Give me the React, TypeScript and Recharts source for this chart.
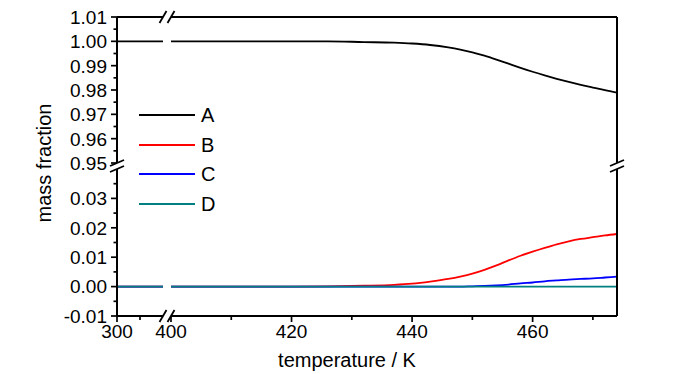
import React from 'react';
import { LineChart, Line, XAxis, YAxis, Legend } from 'recharts';

// ---------- data ----------
const temperatures = [300, 400, 410, 420, 426, 432, 437, 440, 443, 446, 448, 450, 452, 454, 456, 458, 460, 462, 464, 466, 468, 470, 472, 474];
const seriesA = [1.0, 1.0, 1.0, 1.0, 1.0, 0.9997, 0.99945, 0.9991, 0.9985, 0.9975, 0.9966, 0.9955, 0.9941, 0.9925, 0.9908, 0.9891, 0.9875, 0.986, 0.9846, 0.9833, 0.9821, 0.981, 0.9799, 0.9789];
const seriesB = [0, 0, 0, 0, 0.0001, 0.0003, 0.0006, 0.001, 0.0017, 0.0026, 0.0034, 0.0044, 0.0057, 0.0072, 0.0089, 0.0105, 0.0119, 0.0132, 0.0144, 0.0154, 0.0162, 0.0168, 0.0174, 0.0179];
const seriesC = [0, 0, 0, 0, 0, 0, 0, 0, 0, 0, 0, 0.0001, 0.0002, 0.0004, 0.0007, 0.0011, 0.0014, 0.0018, 0.0021, 0.0024, 0.0026, 0.0028, 0.0031, 0.0034];
const seriesD = [0, 0, 0, 0, 0, 0, 0, 0, 0, 0, 0, 0, 0, 0, 0, 0, 0, 0, 0, 0, 0, 0, 0, 0];
const seriesNames = ['A', 'B', 'C', 'D'];
const seriesColors = ['#000000', '#ff0000', '#0000ff', '#008080'];

const xTicksLeft = [300, 350];
const xTicksRight = [400, 410, 420, 430, 440, 450, 460, 470];
const xMajorTicks = [300, 400, 420, 440, 460];
const yTicksTop = [0.95, 0.955, 0.96, 0.965, 0.97, 0.975, 0.98, 0.985, 0.99, 0.995, 1.0, 1.005, 1.01];
const yTicksBottom = [-0.01, -0.005, 0, 0.005, 0.01, 0.015, 0.02, 0.025, 0.03, 0.035];
const xDomainLeft: [number, number] = [300, 400];
const xDomainRight: [number, number] = [400, 474];
const yDomainTop: [number, number] = [0.95, 1.01];
const yDomainBottom: [number, number] = [-0.01, 0.04];
const xTitle = 'temperature / K';
const yTitle = 'mass fraction';

const data = temperatures.map((t, i) => ({
  T: t,
  A: seriesA[i],
  B: seriesB[i],
  C: seriesC[i],
  D: seriesD[i],
}));

// ---------- layout ----------
const W = 700;
const H = 374;
const FONT = '"Liberation Sans", Arial, Helvetica, sans-serif';
const TICK_FS = 19;
const PX = { lLeft: 117, lRight: 163, rLeft: 171, rRight: 617 };
const PY = { tTop: 17, tBottom: 163, bTop: 169, bBottom: 316 };
const LEFT_Y_W = 40;
const RIGHT_Y_W = 5;
const TOP_X_H = 5;
const BOTTOM_X_H = 40;

const isMajorY = (v: number) => Math.abs(Math.round(v * 100) - v * 100) < 1e-6;

const XTick = (props: any) => {
  const { x, y, payload } = props;
  const v = payload.value;
  const major = xMajorTicks.includes(v);
  return (
    <g>
      <line x1={x} x2={x} y1={y} y2={y + (major ? 6 : 4)} stroke="#000" strokeWidth={1.7} />
      {major && (
        <text x={x} y={y + 22} textAnchor="middle" fontSize={TICK_FS} fontFamily={FONT} fill="#000">
          {v}
        </text>
      )}
    </g>
  );
};

const YTick = (props: any) => {
  const { x, y, payload } = props;
  const v = payload.value as number;
  const major = isMajorY(v);
  return (
    <g>
      <line x1={x - (major ? 6 : 3.5)} x2={x} y1={y} y2={y} stroke="#000" strokeWidth={1.7} />
      {major && (
        <text x={x - 10} y={y} dy="0.36em" textAnchor="end" fontSize={TICK_FS} fontFamily={FONT} fill="#000">
          {v.toFixed(2)}
        </text>
      )}
    </g>
  );
};

const LegendContent = (props: any) => {
  const payload = props.payload || [];
  return (
    <div style={{ fontFamily: FONT, fontSize: 20, color: '#000' }}>
      {payload.map((p: any) => (
        <div key={p.value} style={{ display: 'flex', alignItems: 'center', height: 29.8 }}>
          <svg width={56} height={4} style={{ display: 'block' }}>
            <line x1={0} y1={2} x2={56} y2={2} stroke={p.color} strokeWidth={2} />
          </svg>
          <span style={{ marginLeft: 6, lineHeight: '20px' }}>{p.value}</span>
        </div>
      ))}
    </div>
  );
};

type PanelProps = {
  side: 'left' | 'right';
  part: 'top' | 'bottom';
  legend?: boolean;
};

const Panel = ({ side, part, legend }: PanelProps) => {
  const xl = side === 'left' ? PX.lLeft : PX.rLeft;
  const xr = side === 'left' ? PX.lRight : PX.rRight;
  const yt = part === 'top' ? PY.tTop : PY.bTop;
  const yb = part === 'top' ? PY.tBottom : PY.bBottom;
  const margin = {
    left: side === 'left' ? xl - LEFT_Y_W : xl,
    right: side === 'left' ? W - xr : W - xr - RIGHT_Y_W,
    top: part === 'top' ? yt - TOP_X_H : yt,
    bottom: part === 'top' ? H - yb : H - yb - BOTTOM_X_H,
  };
  const axisLine = { stroke: '#000', strokeWidth: 2 };
  return (
    <div style={{ position: 'absolute', left: 0, top: 0 }}>
      <LineChart width={W} height={H} data={data} margin={margin}>
        {part === 'bottom' ? (
          <XAxis
            type="number"
            dataKey="T"
            domain={side === 'left' ? xDomainLeft : xDomainRight}
            allowDataOverflow
            ticks={side === 'left' ? xTicksLeft : xTicksRight}
            interval={0}
            orientation="bottom"
            height={BOTTOM_X_H}
            tickSize={0}
            tickMargin={0}
            tickLine={false}
            axisLine={axisLine}
            tick={<XTick />}
          />
        ) : (
          <XAxis
            type="number"
            dataKey="T"
            domain={side === 'left' ? xDomainLeft : xDomainRight}
            allowDataOverflow
            orientation="top"
            height={TOP_X_H}
            tick={false}
            tickLine={false}
            axisLine={axisLine}
          />
        )}
        {side === 'left' ? (
          <YAxis
            type="number"
            domain={part === 'top' ? yDomainTop : yDomainBottom}
            allowDataOverflow
            ticks={part === 'top' ? yTicksTop : yTicksBottom}
            interval={0}
            orientation="left"
            width={LEFT_Y_W}
            tickSize={0}
            tickMargin={0}
            tickLine={false}
            axisLine={axisLine}
            tick={<YTick />}
          />
        ) : (
          <YAxis
            type="number"
            domain={part === 'top' ? yDomainTop : yDomainBottom}
            allowDataOverflow
            orientation="right"
            width={RIGHT_Y_W}
            tick={false}
            tickLine={false}
            axisLine={axisLine}
          />
        )}
        {seriesNames.map((n, i) => (
          <Line
            key={n}
            type="monotone"
            dataKey={n}
            name={n}
            stroke={seriesColors[i]}
            strokeWidth={1.8}
            dot={false}
            activeDot={false}
            isAnimationActive={false}
          />
        ))}
        {legend && (
          <Legend
            layout="vertical"
            align="center"
            verticalAlign="middle"
            wrapperStyle={{ position: 'absolute', left: 139, top: 100, width: 'auto', height: 'auto' }}
            content={<LegendContent />}
          />
        )}
      </LineChart>
    </div>
  );
};

const Slash = ({ x1, y1, x2, y2 }: { x1: number; y1: number; x2: number; y2: number }) => (
  <line x1={x1} y1={y1} x2={x2} y2={y2} stroke="#000" strokeWidth={1.8} />
);

const Overlay = () => {
  const vBreaks = [PY.tBottom, PY.bTop];
  const hBreaks = [PX.lRight, PX.rLeft];
  return (
    <svg width={W} height={H} style={{ position: 'absolute', left: 0, top: 0, pointerEvents: 'none' }}>
      {[PX.lLeft, PX.rRight].map((x) =>
        vBreaks.map((y) => <Slash key={`v${x}-${y}`} x1={x - 7} y1={y + 3} x2={x + 7} y2={y - 3} />)
      )}
      {[PY.tTop, PY.bBottom].map((y) =>
        hBreaks.map((x) => <Slash key={`h${x}-${y}`} x1={x - 3.5} y1={y + 6} x2={x + 3.5} y2={y - 6} />)
      )}
      <text x={347} y={367} textAnchor="middle" fontSize={20} fontFamily={FONT} fill="#000">
        {xTitle}
      </text>
      <text
        x={51}
        y={163}
        textAnchor="middle"
        fontSize={20}
        fontFamily={FONT}
        fill="#000"
        transform="rotate(-90, 51, 163)"
      >
        {yTitle}
      </text>
    </svg>
  );
};

export default function App() {
  return (
    <div style={{ position: 'absolute', left: 0, top: 0, width: W, height: H, background: '#fff', overflow: 'hidden' }}>
      <Panel side="left" part="top" />
      <Panel side="right" part="top" />
      <Panel side="left" part="bottom" />
      <Panel side="right" part="bottom" legend />
      <Overlay />
    </div>
  );
}
